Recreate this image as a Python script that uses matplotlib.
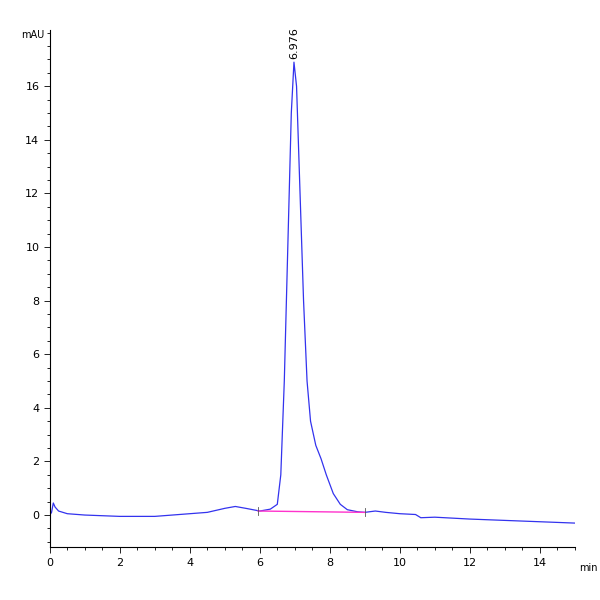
import matplotlib
matplotlib.use("Agg")
import matplotlib.pyplot as plt
from matplotlib.ticker import MultipleLocator, FixedLocator

t = [0, 0.05, 0.1, 0.15, 0.25, 0.5, 1, 2, 3, 4, 4.5, 5, 5.3, 5.6, 6, 6.3, 6.5, 6.6, 6.7, 6.8, 6.9, 6.976,
     7.05, 7.15, 7.25, 7.35, 7.45, 7.6, 7.75, 7.9, 8.1, 8.3, 8.5, 8.8, 9.0, 9.3, 9.6, 10.0, 10.45, 10.6,
     11, 12, 13, 14, 15]
v = [0, 0.1, 0.45, 0.3, 0.15, 0.05, 0.0, -0.05, -0.05, 0.05, 0.1, 0.25, 0.32, 0.25, 0.15, 0.22, 0.4, 1.5,
     5, 10, 15, 16.9, 16, 12, 8, 5, 3.5, 2.6, 2.1, 1.5, 0.8, 0.4, 0.2, 0.12, 0.1, 0.15, 0.1, 0.05, 0.02,
     -0.1, -0.08, -0.15, -0.2, -0.25, -0.3]
base_t = [5.95, 9.0]
base_v = [0.15, 0.1]
peak_rt = 6.976
peak_h = 16.9
y_ticks = [0, 2, 4, 6, 8, 10, 12, 14, 16]

fig = plt.figure(figsize=(6, 6), dpi=100)
ax = fig.add_axes([0.083, 0.088, 0.875, 0.862])
ax.plot(t, v, color="#3333ee", lw=0.9)
ax.plot(base_t, base_v, color="#ff33cc", lw=1.0)
for bt, bv in zip(base_t, base_v):
    ax.plot([bt, bt], [bv - 0.15, bv + 0.15], color="#555555", lw=0.6)
ax.text(peak_rt, peak_h + 0.1, "6.976", rotation=90, ha="center", va="bottom", fontsize=8)
ax.set_xlim(0, 15)
ax.set_ylim(-1.2, 18.1)
ax.xaxis.set_major_locator(MultipleLocator(2))
ax.xaxis.set_minor_locator(MultipleLocator(0.5))
ax.yaxis.set_major_locator(FixedLocator(y_ticks))
ax.yaxis.set_minor_locator(MultipleLocator(0.5))
for s in ["top", "right"]:
    ax.spines[s].set_visible(False)
ax.tick_params(labelsize=8, length=4, width=0.6)
ax.tick_params(which="minor", length=2, width=0.6)
ax.text(-0.01, 18.1, "mAU", ha="right", va="top", fontsize=7, transform=ax.get_yaxis_transform())
ax.text(15.4, -1.8, "min", ha="center", va="top", fontsize=7)
fig.savefig("out.png")
